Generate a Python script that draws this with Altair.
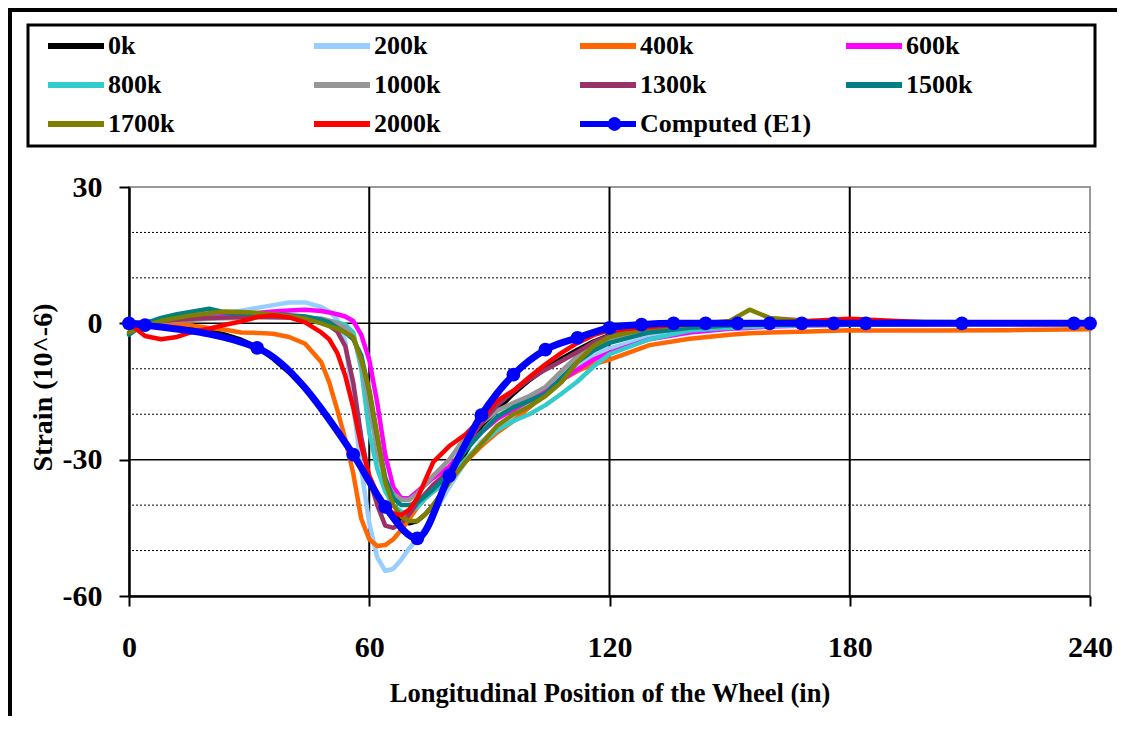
import altair as alt
import pandas as pd

FONT = "Liberation Serif"

# ---------------- data ----------------
X_POS = [0, 4, 8, 12, 16, 20, 24, 28, 32, 36,
         40, 44, 48, 50, 52, 54, 56, 58, 60, 62,
         64, 66, 68, 70, 72, 74, 76, 80, 84, 88,
         92, 96, 100, 104, 108, 112, 116, 120, 130, 140,
         150, 155, 160, 170, 180, 185, 200, 220, 240]

S_0K = [0, -0.2, -0.3, -0.6, -1.0, -1.6, -2.5, -3.6, -5.2, -7.8,
        -10.8, -14.5, -18.5, -21, -23.5, -26, -28.5, -31.5, -34.5, -37.5,
        -40, -42, -43.5, -44, -43.5, -42, -40, -35, -28.5, -22.5,
        -19, -15.5, -12.5, -10, -7.8, -5.8, -4, -2.6, -1, -0.4,
        -0.2, 0, 0.1, 0, 0.2, 0, 0, -0.1, 0]
S_200K = [0, 0.3, 0.6, 0.8, 1.2, 1.6, 2.2, 2.8, 3.4, 4.0,
          4.6, 4.6, 3.6, 2.6, 0.8, -4, -18, -32, -44, -51.5,
          -54.5, -54, -52, -49.5, -47.5, -45, -42, -36, -30.5, -26,
          -23, -20.5, -18, -15, -11.8, -9.2, -7.2, -5.5, -3, -1.6,
          -1, -0.8, -0.5, -0.3, -0.2, -0.2, -0.1, 0, 0]
S_400K = [0, 0.3, 0, -0.2, -0.5, -1.0, -1.4, -2.0, -2.1, -2.3,
          -3.0, -4.5, -8.5, -13, -19, -25.5, -33, -43, -47.5, -49,
          -48.8, -47.5, -45.5, -43, -40.5, -38.5, -37, -34.5, -30.5, -27,
          -24, -21.5, -18.5, -15, -12.5, -10.5, -9, -8, -4.8, -3.4,
          -2.5, -2.2, -2, -1.8, -1.5, -1.6, -1.6, -1.5, -1.3]
S_600K = [0, 0.2, 0.5, 0.8, 1.2, 1.4, 1.6, 2.0, 2.3, 2.6,
          2.8, 3.0, 2.7, 2.4, 2.0, 1.5, 0.5, -2.5, -8, -17.5,
          -29, -36, -38.5, -38.5, -37, -35.5, -34, -31.5, -27.5, -24,
          -21, -19, -17, -15, -12.5, -10.2, -8, -6.5, -3.5, -2,
          -1.2, -1, -0.7, -0.5, -0.3, -0.2, -0.2, 0, 0]
S_800K = [0, 0.3, 0.6, 0.8, 1.0, 1.2, 1.3, 1.5, 1.6, 1.6,
          1.5, 1.3, 1.0, 0.6, 0.2, -0.3, -2, -10, -24, -32,
          -37, -40, -41.5, -41.5, -40.5, -38.5, -37, -34, -30, -26.5,
          -23.5, -21.5, -20, -18, -15.5, -12.8, -9.5, -6.8, -3.5, -1.6,
          -1, -0.8, -0.6, -0.4, -0.3, -0.2, -0.1, 0, 0]
S_1000K = [0, 0.2, 0.4, 0.6, 0.8, 1.0, 1.1, 1.2, 1.3, 1.3,
           1.3, 1.2, 1.0, 0.6, 0.0, -1.0, -3.0, -8.5, -18, -28,
           -34.5, -37.5, -38.8, -38.8, -37.5, -35.5, -33.5, -30, -25, -22,
           -19.2, -17.5, -16, -14, -10.5, -7.2, -5, -3.5, -2, -1,
           -0.5, -0.4, -0.3, -0.2, -0.1, 0, 0, 0, 0]
S_1300K = [0, 0.2, 0.5, 0.8, 1.0, 1.2, 1.3, 1.4, 1.5, 1.4,
           1.3, 1.0, 0.3, -0.5, -1.8, -5, -13, -25, -34, -40,
           -44.5, -45, -44, -42, -39.5, -37.5, -35.5, -32.5, -27, -22,
           -18, -15, -12.3, -10.2, -8.3, -6.3, -4.2, -2.7, -1.1, -0.4,
           -0.2, 0, 0, 0, 0, 0, 0, 0, 0]
S_1500K = [-2.5, 0, 1.2, 2.0, 2.6, 3.2, 2.4, 2.2, 2.1, 2.0,
           1.8, 1.5, 0.8, 0.2, -1.0, -2.0, -3.5, -7, -15, -25,
           -34, -38.5, -40, -40, -39.5, -38, -36.5, -33, -28, -24,
           -20.5, -18.5, -17, -15.5, -12, -8.5, -6, -4.3, -2, -1,
           -0.5, -0.3, -0.2, 0, 0.3, 0.2, 0.2, 0.1, 0]
S_1700K = [-2, -0.5, 0.5, 1.2, 1.8, 2.2, 2.6, 2.5, 2.3, 2.0,
           1.6, 1.0, 0.0, -0.6, -1.2, -2.0, -3, -8, -14.5, -24.5,
           -35, -40, -42.5, -43.5, -43.5, -42, -40, -35, -30.5, -26.5,
           -22.5, -20, -18.3, -16, -13, -8.5, -5, -3, -1, -0.3,
           0.5, 3.0, 1.2, 0.5, 0.5, 0.4, 0.3, 0.2, 0]
S_2000K = [0, -2.8, -3.5, -3.0, -1.8, -1.2, -0.3, 0.4, 1.4, 1.8,
           1.3, 0.2, -2.0, -3.5, -6.5, -11.5, -18.5, -27, -33.5, -37.5,
           -40.5, -41.8, -42.2, -41, -38.5, -34.5, -30.5, -27, -24.5, -21,
           -17, -14.8, -11.8, -9, -6.5, -4.3, -2.6, -1.5, -0.8, -0.1,
           0, 0.1, 0.2, 0.5, 1.0, 0.8, 0.2, 0, 0]

SERIES_NAMES = ["0k", "200k", "400k", "600k", "800k", "1000k",
                "1300k", "1500k", "1700k", "2000k"]
SERIES_VALUES = [S_0K, S_200K, S_400K, S_600K, S_800K, S_1000K,
                 S_1300K, S_1500K, S_1700K, S_2000K]
SERIES_COLORS = ["#000000", "#99CCFF", "#FF6600", "#FF00FF", "#33CCCC",
                 "#969696", "#993366", "#008080", "#808000", "#FF0000"]

COMP_NAME = "Computed (E1)"
COMP_COLOR = "#0000FF"
COMP_X = [0, 4, 32, 56, 64, 72, 80, 88, 96, 104, 112, 120,
          128, 136, 144, 152, 160, 168, 176, 184, 208, 236, 240]
COMP_Y = [0, -0.4, -5.4, -28.9, -40.4, -47.3, -33.5, -20.2, -11.3, -5.8, -3.2, -1.0,
          -0.3, 0, 0, 0, 0, 0, 0, 0, 0, 0, 0]

X_TICKS = [0, 60, 120, 180, 240]
Y_TICKS = [-60, -30, 0, 30]
Y_MINOR = [20, 10, -10, -20, -40, -50]
Y_MAJOR = [0, -30]
X_GRID = [60, 120, 180]

# ---------------- tables ----------------
rows = []
for name, vals in zip(SERIES_NAMES, SERIES_VALUES):
    for xv, yv in zip(X_POS, vals):
        rows.append({"series": name, "x": xv, "y": yv})
meas = pd.DataFrame(rows)
comp = pd.DataFrame({"x": COMP_X, "y": COMP_Y, "series": COMP_NAME, "mk": COMP_NAME})

xs = alt.Scale(domain=[0, 240], nice=False, zero=False)
ys = alt.Scale(domain=[-60, 30], nice=False, zero=False)

x_axis = alt.Axis(values=X_TICKS, grid=False, labelFlush=False, labelOverlap=False,
                  labelExpr="'' + datum.value",
                  domainColor="black", domainWidth=2.5, tickColor="black", tickWidth=2,
                  tickSize=10, labelFont=FONT, labelFontSize=30, labelFontWeight="bold",
                  labelColor="black", labelBaseline="middle", labelPadding=41,
                  title="Longitudinal Position of the Wheel (in)", titleFont=FONT,
                  titleFontSize=26.5, titleFontWeight="bold", titleColor="black",
                  titleBaseline="middle", titleY=97)
y_axis = alt.Axis(values=Y_TICKS, grid=False, labelFlush=False, labelOverlap=False,
                  labelExpr="'' + datum.value",
                  domainColor="black", domainWidth=2.5, tickColor="black", tickWidth=2,
                  tickSize=10, labelFont=FONT, labelFontSize=30, labelFontWeight="bold",
                  labelColor="black", labelPadding=17,
                  title="Strain (10^-6)", titleFont=FONT, titleFontSize=28,
                  titleFontWeight="bold", titleColor="black", titleBaseline="middle",
                  titleX=-86, titleY=200)

X = alt.X("x:Q", scale=xs, axis=x_axis)
Y = alt.Y("y:Q", scale=ys, axis=y_axis)

color_legend = alt.Legend(orient="none", legendX=-84, legendY=-155, columns=4,
                          direction="horizontal",
                          gridAlign="all", columnPadding=31, rowPadding=11,
                          symbolType="stroke", symbolSize=3136, symbolStrokeWidth=6,
                          clipHeight=28, labelFont=FONT, labelFontSize=26,
                          labelFontWeight="bold", labelColor="black", labelOffset=1,
                          labelLimit=400, title=None, padding=0, symbolOpacity=1)
color_enc = alt.Color("series:N",
                      scale=alt.Scale(domain=SERIES_NAMES + [COMP_NAME],
                                      range=SERIES_COLORS + [COMP_COLOR]),
                      legend=color_legend)
shape_enc = alt.Shape("mk:N", scale=alt.Scale(domain=[COMP_NAME], range=["circle"]),
                      legend=alt.Legend(orient="none", legendX=478, legendY=-70,
                                        title=None, padding=0, symbolSize=190,
                                        symbolFillColor=COMP_COLOR,
                                        symbolStrokeColor=COMP_COLOR,
                                        symbolStrokeWidth=1, labelExpr="''",
                                        labelFontSize=1, clipHeight=14))

one = pd.DataFrame({"k": [0]})

frame_left = alt.Chart(one).mark_rule(color="black", strokeWidth=4).encode(
    x=alt.value(-119), y=alt.value(-179), y2=alt.value(529))
frame_top = alt.Chart(one).mark_rule(color="black", strokeWidth=4).encode(
    x=alt.value(-121), x2=alt.value(988), y=alt.value(-177))
legend_box = alt.Chart(one).mark_rect(fillOpacity=0, stroke="black", strokeWidth=3).encode(
    x=alt.value(-101), x2=alt.value(966), y=alt.value(-162), y2=alt.value(-41))

minor = alt.Chart(pd.DataFrame({"y": Y_MINOR})).mark_rule(
    color="black", strokeWidth=1, strokeDash=[2, 2]).encode(y=Y)
major = alt.Chart(pd.DataFrame({"y": Y_MAJOR})).mark_rule(
    color="black", strokeWidth=1.5).encode(y=Y)
vert = alt.Chart(pd.DataFrame({"x": X_GRID})).mark_rule(
    color="black", strokeWidth=2).encode(x=X)

lines = alt.Chart(meas).mark_line(strokeWidth=4.5, strokeJoin="round", strokeCap="round").encode(
    x=X, y=Y, color=color_enc)
comp_line = alt.Chart(comp).mark_line(strokeWidth=7, strokeJoin="round",
                                      interpolate="monotone").encode(
    x=X, y=Y, color=color_enc)
comp_pts = alt.Chart(comp).mark_point(filled=True, size=190, opacity=1, color=COMP_COLOR).encode(
    x=X, y=Y, shape=shape_enc)

chart = alt.layer(frame_left, frame_top, legend_box, minor, major, vert,
                  lines, comp_line, comp_pts).properties(
    width=961, height=409,
    padding={"left": 121, "top": 179, "right": 27, "bottom": 120},
    autosize=alt.AutoSizeParams(type="none"),
    background="white",
).configure_view(stroke="#999999", strokeWidth=2)

chart.save("out.html", embed_options={"renderer": "svg", "actions": False})
